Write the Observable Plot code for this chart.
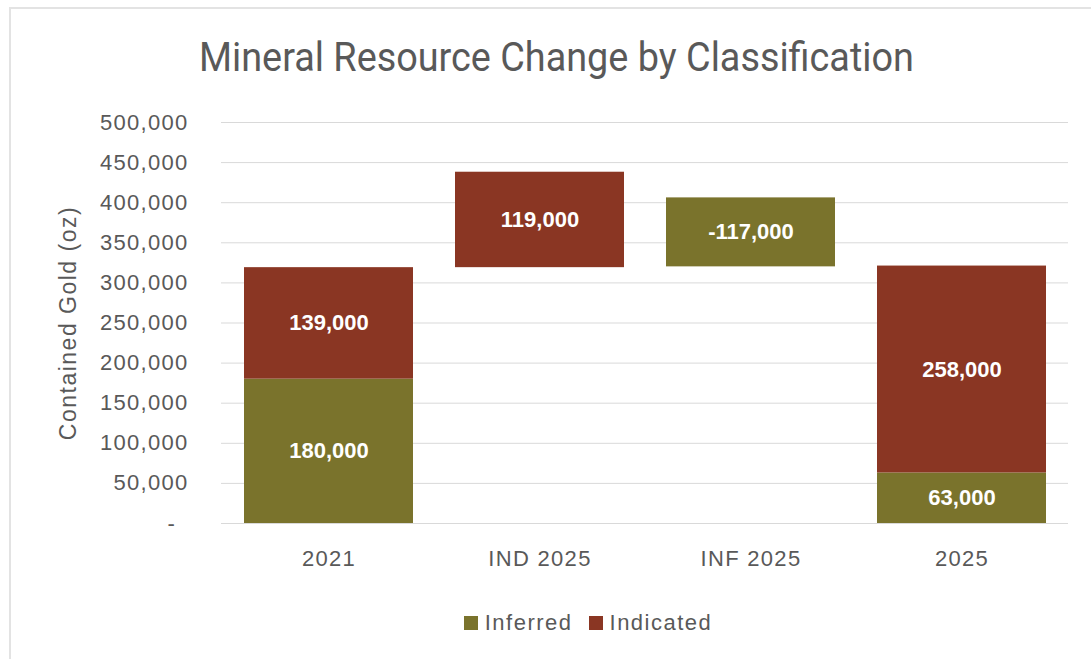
<!DOCTYPE html>
<html>
<head>
<meta charset="utf-8">
<script src="https://cdn.jsdelivr.net/npm/d3@7"></script>
<script src="https://cdn.jsdelivr.net/npm/@observablehq/plot@0.6"></script>
<style>
  html, body { margin: 0; padding: 0; background: #ffffff; width: 1091px; height: 659px; overflow: hidden; }
  #frame { position: absolute; left: 9px; top: 7px; width: 1200px; height: 700px; border: 2px solid #e3e3e3; box-sizing: border-box; }
  #title { position: absolute; top: 38px; left: 0; width: 1113px; text-align: center; font-family: Roboto, "Liberation Sans", sans-serif; font-size: 40px; line-height: 40px; color: #595959; white-space: nowrap; transform: scaleX(0.945); transform-origin: 556px 0; }
  #chart { position: absolute; left: 0; top: 100px; }
  #legend { position: absolute; top: 611px; left: 0; width: 1176px; text-align: center; font-family: "Liberation Sans", Arial, sans-serif; font-size: 22px; line-height: 24px; color: #595959; letter-spacing: 1.5px; white-space: nowrap; }
  #legend .item { display: inline-block; margin: 0 8px; }
  #legend .sw { display: inline-block; width: 14px; height: 14px; margin-right: 7px; vertical-align: 0px; }
  [aria-label="y-axis tick label"], [aria-label="x-axis tick label"] { letter-spacing: 1.3px; }
  [aria-label="y-axis label"] { letter-spacing: 1.5px; font-size: 23px; }
</style>
</head>
<body>
<div id="frame"></div>
<div id="title">Mineral Resource Change by Classification</div>
<div id="chart"></div>
<div id="legend"></div>
<script>
// ---- data ----
const categories = ["2021", "IND 2025", "INF 2025", "2025"];
const classes = ["Inferred", "Indicated"];
const classColors = ["#7a732c", "#8a3623"];
const yTicks = [0, 50000, 100000, 150000, 200000, 250000, 300000, 350000, 400000, 450000, 500000];

// stacked / floating segments as drawn
const segCategory = ["2021", "2021", "IND 2025", "INF 2025", "2025", "2025"];
const segClass    = ["Inferred", "Indicated", "Indicated", "Inferred", "Inferred", "Indicated"];
const segLow      = [0, 180000, 319000, 320000, 0, 63000];
const segHigh     = [180000, 319000, 438000, 406000, 63000, 321000];
const segLabel    = [180000, 139000, 119000, -117000, 63000, 258000];

const segments = segCategory.map((c, i) => ({
  cat: c, cls: segClass[i], low: segLow[i], high: segHigh[i], label: segLabel[i]
}));

const fmt = d3.formatLocale({ decimal: ".", thousands: ",", grouping: [3], currency: ["$", ""], minus: "-" }).format(",");
const tickFmt = d => d === 0 ? "-\u2002" : fmt(d);

const chart = Plot.plot({
  width: 1091,
  height: 480,
  marginTop: 22,
  marginBottom: 57,
  marginLeft: 221,
  marginRight: 23,
  style: { fontFamily: "'Liberation Sans', Arial, sans-serif", fontSize: "22px", color: "#595959", background: "transparent", overflow: "visible" },
  x: { domain: categories, paddingInner: 0.2, paddingOuter: 0.1, label: null },
  y: { domain: [0, 500000] },
  color: { domain: classes, range: classColors },
  marks: [
    Plot.gridY(yTicks, { stroke: "#d9d9d9", strokeOpacity: 1, strokeWidth: 1 }),
    Plot.axisY(yTicks, { tickSize: 0, tickPadding: 33, tickFormat: tickFmt, label: "Contained Gold (oz)", labelAnchor: "center", labelOffset: 162, labelArrow: "none" }),
    Plot.axisX({ tickSize: 0, tickPadding: 27, label: null }),
    Plot.rectY(segments, { x: "cat", y1: "low", y2: "high", fill: "cls" }),
    Plot.text(segments, {
      x: "cat",
      y: d => (d.low + d.high) / 2,
      text: d => fmt(d.label),
      fill: "white",
      fontWeight: "bold",
      fontSize: 22
    })
  ]
});
document.getElementById("chart").appendChild(chart);

const legend = document.getElementById("legend");
classes.forEach((c, i) => {
  const item = document.createElement("span");
  item.className = "item";
  const sw = document.createElement("span");
  sw.className = "sw";
  sw.style.background = classColors[i];
  item.appendChild(sw);
  item.appendChild(document.createTextNode(c));
  legend.appendChild(item);
});
</script>
</body>
</html>
